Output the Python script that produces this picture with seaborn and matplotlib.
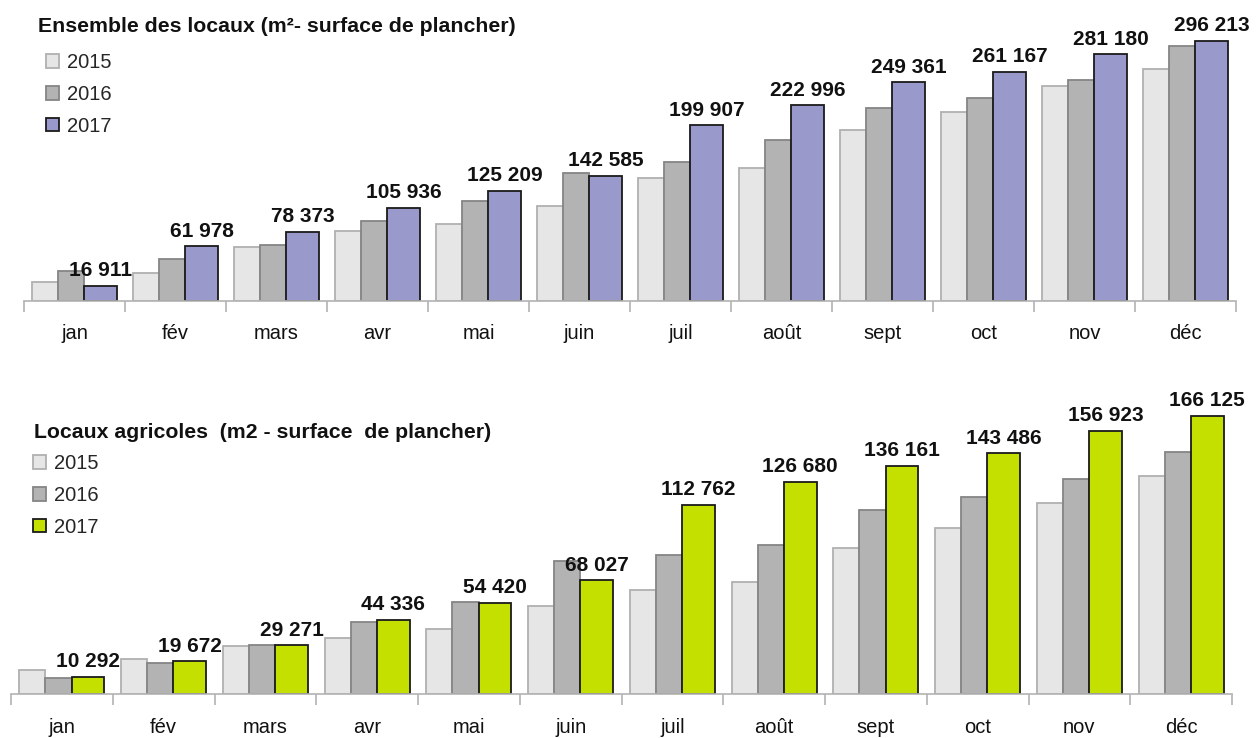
import numpy as np
import pandas as pd
import matplotlib
matplotlib.use('Agg')
import matplotlib.pyplot as plt
import seaborn as sns

# Data (m2 - surface de plancher, cumul mensuel)
months = ['jan', 'fév', 'mars', 'avr', 'mai', 'juin', 'juil', 'août', 'sept', 'oct', 'nov', 'déc']
years = ['2015', '2016', '2017']

ens_2015 = [20800, 31400, 61000, 78800, 86800, 108100, 139700, 150700, 194100, 215200, 245200, 263900]
ens_2016 = [33300, 47000, 63000, 90600, 113500, 145400, 158300, 183100, 219600, 231500, 251400, 290200]
ens_2017 = [16911, 61978, 78373, 105936, 125209, 142585, 199907, 222996, 249361, 261167, 281180, 296213]

agr_2015 = [14500, 20700, 29000, 33400, 38900, 52500, 62300, 66900, 87400, 99100, 113800, 130300]
agr_2016 = [9700, 18500, 29600, 42900, 54800, 79300, 83200, 89200, 109500, 117800, 128500, 144600]
agr_2017 = [10292, 19672, 29271, 44336, 54420, 68027, 112762, 126680, 136161, 143486, 156923, 166125]

W, H = 1259, 738

sns.set_theme(style='white')
plt.rcParams['font.family'] = ['Liberation Sans', 'DejaVu Sans']
NARROW = ['Liberation Sans Narrow', 'Liberation Sans', 'DejaVu Sans']


def long_df(v15, v16, v17):
    rows = []
    for yr, vals in zip(years, [v15, v16, v17]):
        for m, v in zip(months, vals):
            rows.append({'mois': m, 'annee': yr, 'valeur': v})
    return pd.DataFrame(rows)


def draw_panel(fig, rect, df, color17, ymax, title, title_xy, leg_xy):
    ax = fig.add_axes(rect)
    palette = {'2015': '#e6e6e6', '2016': '#b3b3b3', '2017': color17}
    sns.barplot(data=df, x='mois', y='valeur', hue='annee', order=months,
                hue_order=years, palette=palette, saturation=1, ax=ax,
                legend=False, errorbar=None)

    # 2017 bars are wider than the two reference years
    edges = ['#b0b0b0', '#858585', '#1a1a1a']
    widths = [0.257, 0.257, 0.322]
    start = -0.418
    for k, cont in enumerate(ax.containers):
        off = start + sum(widths[:k])
        for i, p in enumerate(cont.patches):
            p.set_x(i + off)
            p.set_width(widths[k])
            p.set_edgecolor(edges[k])
            p.set_linewidth(1.3)

    labels = [f'{v:,}'.replace(',', ' ') for v in df[df['annee'] == '2017']['valeur']]
    ax.bar_label(ax.containers[2], labels=labels, padding=4, fontsize=15,
                 fontweight='bold', color='#111111')

    ax.set_xlim(-0.5, 11.5)
    ax.set_ylim(0, ymax)
    ax.set_xlabel('')
    ax.set_ylabel('')
    ax.set_yticks([])
    for s in ['top', 'right', 'left']:
        ax.spines[s].set_visible(False)
    ax.spines['bottom'].set_color('#b3b3b3')
    ax.spines['bottom'].set_linewidth(1.2)
    ax.set_xticks(range(12))
    ax.set_xticklabels(months, fontsize=14.5, color='#111111')
    ax.set_xticks(np.arange(-0.5, 12, 1), minor=True)
    ax.tick_params(axis='x', which='major', length=0, pad=17)
    ax.tick_params(axis='x', which='minor', length=8, width=1.2,
                   color='#b3b3b3', bottom=True)

    handles = [c.patches[0] for c in ax.containers]
    ax.legend(handles, years, loc='upper left',
              bbox_to_anchor=(leg_xy[0] / W, 1 - leg_xy[1] / H),
              bbox_transform=fig.transFigure, frameon=False, fontsize=14.5,
              handlelength=0.65, handleheight=0.65, handletextpad=0.4,
              labelspacing=0.64, borderpad=0, borderaxespad=0)

    fig.text(title_xy[0] / W, 1 - title_xy[1] / H, title, fontsize=15.3,
             fontweight='bold', family=NARROW, va='center', ha='left',
             color='#111111')
    return ax


fig = plt.figure(figsize=(W / 100, H / 100), dpi=100)

draw_panel(fig, [24 / W, 1 - 300.5 / H, 1212 / W, 262.8 / H],
           long_df(ens_2015, ens_2016, ens_2017), '#9999cc', 300000,
           'Ensemble des locaux (m²- surface de plancher)', (38, 26), (46, 53))

draw_panel(fig, [11 / W, 1 - 694.2 / H, 1221 / W, 285.2 / H],
           long_df(agr_2015, agr_2016, agr_2017), '#c4e000', 170000,
           'Locaux agricoles  (m2 - surface  de plancher)', (34, 432), (33, 454))

fig.savefig('out.png', dpi=100)
